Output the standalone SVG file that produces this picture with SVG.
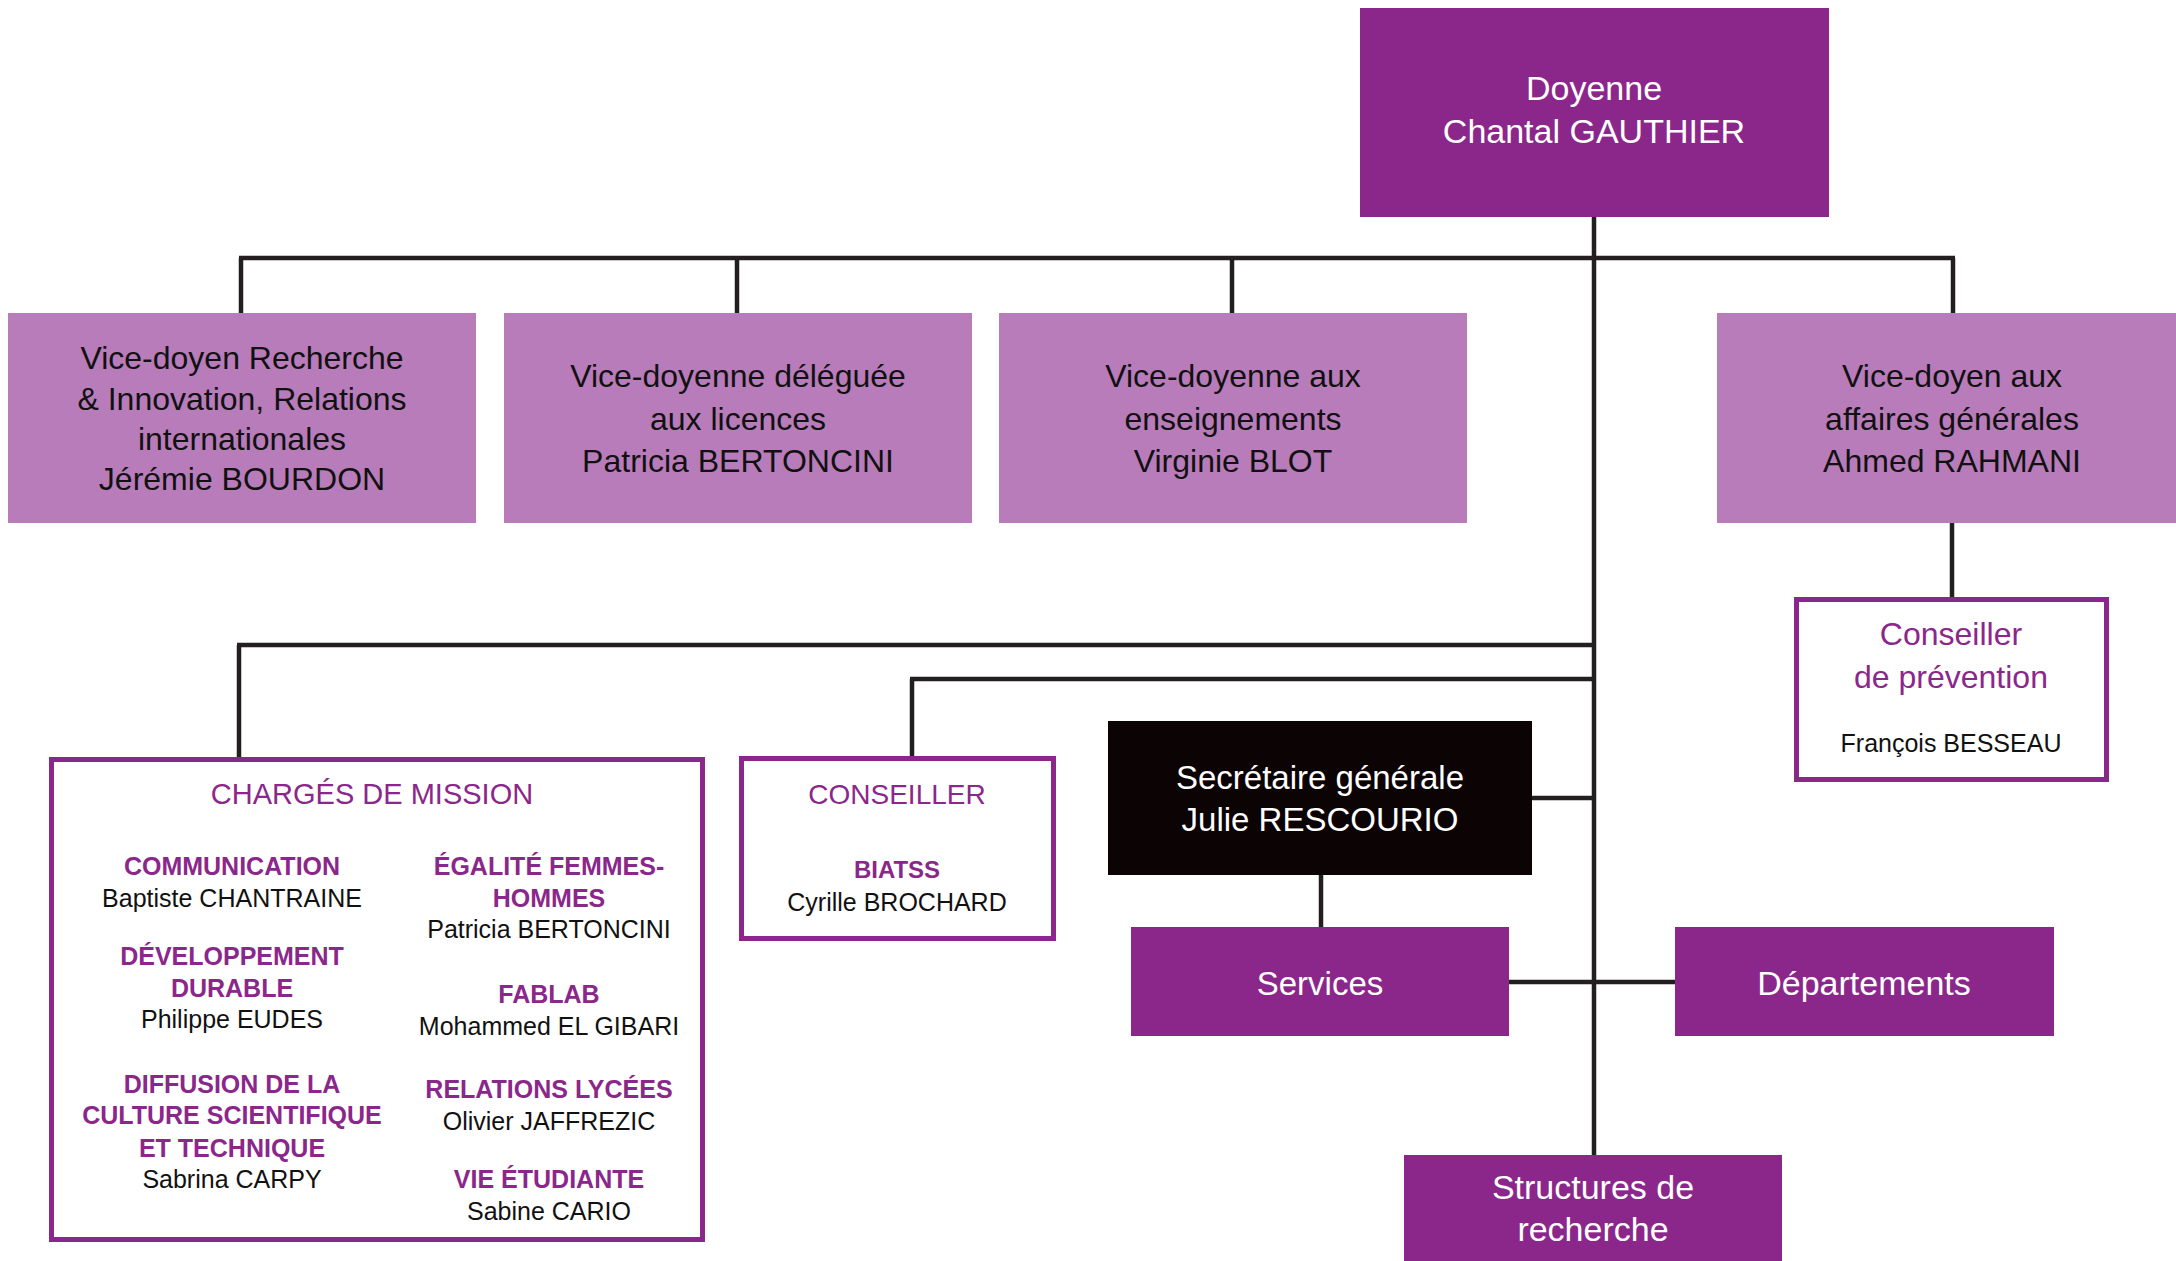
<svg xmlns="http://www.w3.org/2000/svg" width="2176" height="1261" viewBox="0 0 2176 1261">
<style>
text{font-family:"Liberation Sans",Arial,sans-serif;text-anchor:middle}
.dark{fill:#8b278b}
.light{fill:#b87cba}
.black{fill:#0b0304}
.frame{fill:#ffffff;stroke:#8b278b;stroke-width:5}
.w{fill:#ffffff}
.k{fill:#111111}
.p{fill:#8b278b}
.b{font-weight:bold}
.v{font-size:32px}
.n{font-size:25px}
.c line{stroke:#231f20;stroke-width:4.5}
</style>
<rect width="2176" height="1261" fill="#ffffff"/>
<g class="c" id="connectors">
<line x1="1594" y1="216" x2="1594" y2="1156"/>
<line x1="239" y1="258" x2="1955" y2="258" stroke-width="5"/>
<line x1="241" y1="258" x2="241" y2="314"/>
<line x1="737" y1="258" x2="737" y2="314"/>
<line x1="1232" y1="258" x2="1232" y2="314"/>
<line x1="1953" y1="258" x2="1953" y2="314"/>
<line x1="1952" y1="522" x2="1952" y2="598"/>
<line x1="237" y1="645" x2="1594" y2="645" stroke-width="5"/>
<line x1="239" y1="645" x2="239" y2="758"/>
<line x1="910" y1="679" x2="1594" y2="679" stroke-width="5"/>
<line x1="912" y1="679" x2="912" y2="757"/>
<line x1="1532" y1="798" x2="1594" y2="798" stroke-width="5"/>
<line x1="1321" y1="874" x2="1321" y2="928"/>
<line x1="1509" y1="982" x2="1676" y2="982" stroke-width="5"/>
</g>
<g id="doyenne">
<rect class="dark" x="1360" y="8" width="469" height="209"/>
<text class="w" font-size="34" x="1594" y="100">Doyenne</text>
<text class="w" font-size="34" x="1594" y="143">Chantal GAUTHIER</text>
</g>
<g id="vd-recherche">
<rect class="light" x="8" y="313" width="468" height="210"/>
<text class="k v" x="242" y="369">Vice-doyen Recherche</text>
<text class="k v" x="242" y="410">&amp; Innovation, Relations</text>
<text class="k v" x="242" y="450">internationales</text>
<text class="k v" x="242" y="490">Jérémie BOURDON</text>
</g>
<g id="vd-licences">
<rect class="light" x="504" y="313" width="468" height="210"/>
<text class="k v" x="738" y="387">Vice-doyenne déléguée</text>
<text class="k v" x="738" y="430">aux licences</text>
<text class="k v" x="738" y="472">Patricia BERTONCINI</text>
</g>
<g id="vd-enseignements">
<rect class="light" x="999" y="313" width="468" height="210"/>
<text class="k v" x="1233" y="387">Vice-doyenne aux</text>
<text class="k v" x="1233" y="430">enseignements</text>
<text class="k v" x="1233" y="472">Virginie BLOT</text>
</g>
<g id="vd-affaires">
<rect class="light" x="1717" y="313" width="470" height="210"/>
<text class="k v" x="1952" y="387">Vice-doyen aux</text>
<text class="k v" x="1952" y="430">affaires générales</text>
<text class="k v" x="1952" y="472">Ahmed RAHMANI</text>
</g>
<g id="conseiller-prevention">
<rect class="frame" x="1796.5" y="599.5" width="310" height="180"/>
<text class="p v" x="1951" y="645">Conseiller</text>
<text class="p v" x="1951" y="688">de prévention</text>
<text class="k n" x="1951" y="752">François BESSEAU</text>
</g>
<g id="charges-de-mission">
<rect class="frame" x="51.5" y="759.5" width="651" height="480"/>
<text class="p" font-size="29" x="372" y="804">CHARGÉS DE MISSION</text>
<text class="p b n" x="232" y="875">COMMUNICATION</text>
<text class="k n" x="232" y="907">Baptiste CHANTRAINE</text>
<text class="p b n" x="232" y="965">DÉVELOPPEMENT</text>
<text class="p b n" x="232" y="997">DURABLE</text>
<text class="k n" x="232" y="1028">Philippe EUDES</text>
<text class="p b n" x="232" y="1093">DIFFUSION DE LA</text>
<text class="p b n" x="232" y="1124">CULTURE SCIENTIFIQUE</text>
<text class="p b n" x="232" y="1157">ET TECHNIQUE</text>
<text class="k n" x="232" y="1188">Sabrina CARPY</text>
<text class="p b n" x="549" y="875">ÉGALITÉ FEMMES-</text>
<text class="p b n" x="549" y="907">HOMMES</text>
<text class="k n" x="549" y="938">Patricia BERTONCINI</text>
<text class="p b n" x="549" y="1003">FABLAB</text>
<text class="k n" x="549" y="1035">Mohammed EL GIBARI</text>
<text class="p b n" x="549" y="1098">RELATIONS LYCÉES</text>
<text class="k n" x="549" y="1130">Olivier JAFFREZIC</text>
<text class="p b n" x="549" y="1188">VIE ÉTUDIANTE</text>
<text class="k n" x="549" y="1220">Sabine CARIO</text>
</g>
<g id="conseiller">
<rect class="frame" x="741.5" y="758.5" width="312" height="180"/>
<text class="p" font-size="28" x="897" y="804">CONSEILLER</text>
<text class="p b" font-size="24" x="897" y="878">BIATSS</text>
<text class="k n" x="897" y="911">Cyrille BROCHARD</text>
</g>
<g id="secretaire-generale">
<rect class="black" x="1108" y="721" width="424" height="154"/>
<text class="w" font-size="33" x="1320" y="789">Secrétaire générale</text>
<text class="w" font-size="33" x="1320" y="831">Julie RESCOURIO</text>
</g>
<g id="services">
<rect class="dark" x="1131" y="927" width="378" height="109"/>
<text class="w" font-size="33" x="1320" y="995">Services</text>
<!-- label -->
</g>
<g id="departements">
<rect class="dark" x="1675" y="927" width="379" height="109"/>
<text class="w" font-size="34" x="1864" y="995">Départements</text>
</g>
<g id="structures-recherche">
<rect class="dark" x="1404" y="1155" width="378" height="110"/>
<text class="w" font-size="34" x="1593" y="1199">Structures de</text>
<text class="w" font-size="34" x="1593" y="1241">recherche</text>
</g>
</svg>
